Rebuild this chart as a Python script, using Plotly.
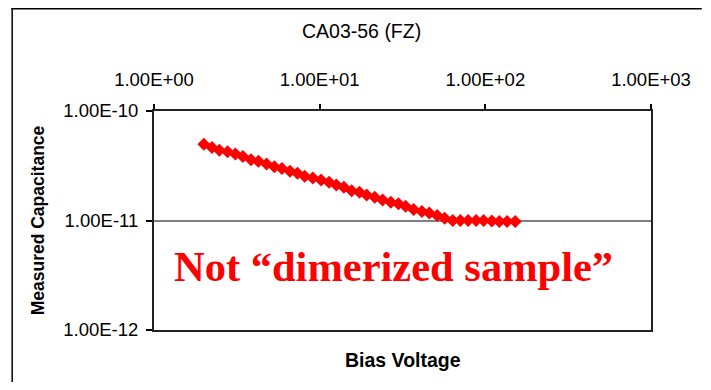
import plotly.graph_objects as go

bias_voltage = [2.00, 2.24, 2.48, 2.78, 3.10, 3.44, 3.85, 4.27, 4.78, 5.33,
                5.92, 6.62, 7.35, 8.12, 9.09, 10.2, 11.4, 12.6, 14.0, 15.6,
                17.4, 19.2, 21.5, 24.0, 26.9, 29.9, 33.0, 36.9, 41.4, 45.9,
                51.2, 56.8, 63.6, 70.6, 78.7, 88.0, 97.7, 109.4, 121.4, 135.3, 151.5]
capacitance = [4.98e-11, 4.65e-11, 4.39e-11, 4.24e-11, 4.04e-11, 3.85e-11, 3.59e-11, 3.47e-11,
               3.28e-11, 3.10e-11, 2.99e-11, 2.81e-11, 2.70e-11, 2.53e-11, 2.44e-11, 2.34e-11,
               2.23e-11, 2.11e-11, 2.01e-11, 1.87e-11, 1.81e-11, 1.71e-11, 1.63e-11, 1.54e-11,
               1.47e-11, 1.42e-11, 1.35e-11, 1.26e-11, 1.21e-11, 1.17e-11, 1.11e-11, 1.05e-11,
               1.00e-11, 1.00e-11, 1.00e-11, 1.00e-11, 1.00e-11, 0.99e-11, 0.98e-11, 0.98e-11, 0.98e-11]

x_tickvals = [1, 10, 100, 1000]
x_ticktext = ["1.00E+00", "1.00E+01", "1.00E+02", "1.00E+03"]
y_tickvals = [1e-12, 1e-11, 1e-10]
y_ticktext = ["1.00E-12", "1.00E-11", "1.00E-10"]

chart_title = "CA03-56 (FZ)"
x_title = "Bias Voltage"
y_title = "Measured Capacitance"
note_text = "Not \u201cdimerized sample\u201d"

# page body adds an 8px margin on every side; keep the figure inside the window
OFF = 8
W, H = 711 - 2 * OFF, 390 - 2 * OFF
L, R, T, B = 154 - OFF, W - (663 - OFF), 111 - OFF, H - (330 - OFF)
pw, ph = W - L - R, H - T - B

def px_x(px):  # screen pixel -> paper x
    return (px - OFF - L) / pw

def px_y(py):  # screen pixel -> paper y
    return (H - B - (py - OFF)) / ph

fig = go.Figure()
fig.add_trace(go.Scatter(
    x=bias_voltage, y=capacitance, mode="markers",
    marker=dict(symbol="diamond", size=10, color="#ff0000", line=dict(width=0)),
    showlegend=False,
))

font_main = "Liberation Sans, Arial, sans-serif"
border = dict(color="black", width=1.5)

fig.update_layout(
    width=W, height=H,
    margin=dict(l=L, r=R, t=T, b=B),
    paper_bgcolor="white", plot_bgcolor="white",
    font=dict(family=font_main, color="black", size=18),
    xaxis=dict(
        type="log", range=[0, 3], side="top",
        tickvals=x_tickvals, ticktext=x_ticktext,
        ticks="outside", ticklen=5, tickcolor="black", tickwidth=1.5,
        ticklabelstandoff=11,
        showgrid=False, zeroline=False,
        showline=True, linecolor="#222222", linewidth=2, mirror=True,
        tickfont=dict(size=18.5),
    ),
    yaxis=dict(
        type="log", range=[-12, -10],
        tickvals=y_tickvals, ticktext=y_ticktext,
        ticks="outside", ticklen=6, tickcolor="black", tickwidth=1.5,
        ticklabelstandoff=4,
        showgrid=True, gridcolor="#808080", gridwidth=1.5,
        zeroline=False,
        showline=True, linecolor="#222222", linewidth=2, mirror=True,
        tickfont=dict(size=18.5),
        title=dict(text="<b>" + y_title + "</b>", font=dict(size=17.5), standoff=14),
    ),
    shapes=[
        dict(type="line", xref="paper", yref="paper",
             x0=px_x(8.75), x1=px_x(8.75), y0=px_y(395), y1=px_y(8.0), line=border, layer="below"),
        dict(type="line", xref="paper", yref="paper",
             x0=px_x(8.0), x1=px_x(715), y0=px_y(8.75), y1=px_y(8.75), line=border, layer="below"),
    ],
    annotations=[
        dict(text=chart_title, xref="paper", yref="paper", x=px_x(367), y=px_y(31),
             xanchor="center", yanchor="middle", showarrow=False, font=dict(size=19.5)),
        dict(text="<b>" + x_title + "</b>", xref="paper", yref="paper", x=px_x(409), y=px_y(360),
             xanchor="center", yanchor="middle", showarrow=False, font=dict(size=19.5)),
        dict(text="<b>" + note_text + "</b>", xref="paper", yref="paper", x=px_x(172), y=px_y(266),
             xanchor="left", yanchor="middle", showarrow=False,
             font=dict(family="Liberation Serif, Times New Roman, serif", size=42.5, color="#ff0000")),
    ],
)

fig.write_html("out.html")
